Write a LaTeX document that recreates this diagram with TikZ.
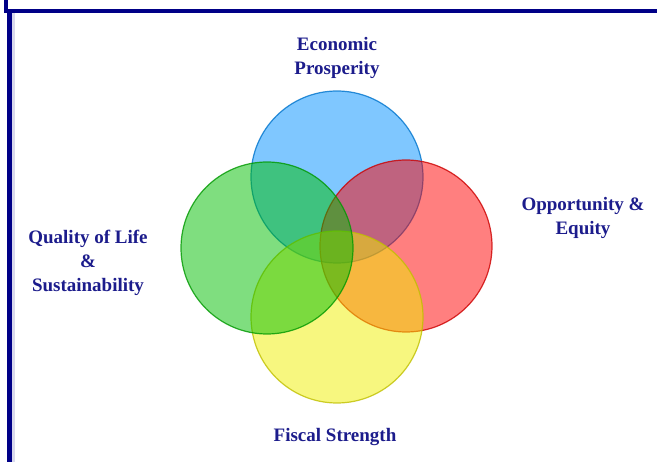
\documentclass[tikz,border=0pt]{standalone}
\usepackage{fontspec}
\setmainfont{Liberation Serif}
\definecolor{navy}{RGB}{28,28,140}
\definecolor{frameblue}{RGB}{0,0,135}
\definecolor{econ}{RGB}{0,145,255}
\definecolor{oppo}{RGB}{255,0,0}
\definecolor{fisc}{RGB}{240,240,0}
\definecolor{qual}{RGB}{0,190,0}
\tikzset{
    ring/.style={fill=#1, fill opacity=0.5, draw=#1!80!black, draw opacity=0.8, line width=1.2pt},
    label/.style={text=navy, font=\bfseries\fontsize{19}{24}\selectfont, align=center, anchor=base}
}
\begin{document}
\begin{tikzpicture}[x=1pt, y=-1pt]
        \useasboundingbox (0,0) rectangle (657,462);
        \fill[white] (0,0) rectangle (657,462);

        \fill[frameblue] (4,0) rectangle (8,13);
        \fill[frameblue] (4,9) rectangle (657,13);
        \fill[frameblue] (7,9) rectangle (12,462);
        \fill[frameblue!15] (12,13) rectangle (15,462);

        \coordinate (econ) at (337,177);
        \coordinate (oppo) at (406,246);
        \coordinate (fisc) at (337,317);
        \coordinate (qual) at (267,248);

        \path[ring=econ] (econ) circle[radius=86pt];
        \path[ring=oppo] (oppo) circle[radius=86pt];
        \path[ring=fisc] (fisc) circle[radius=86pt];
        \path[ring=qual] (qual) circle[radius=86pt];

        \node[label] (econlabel) at (337,75) {Economic\\Prosperity};
        \node[label] (oppolabel) at (583,235) {Opportunity \&\\Equity};
        \node[label] (quallabel) at (88,292) {Quality of Life\\\&\\Sustainability};
        \node[label] (fisclabel) at (335,442) {Fiscal Strength};
\end{tikzpicture}
\end{document}
